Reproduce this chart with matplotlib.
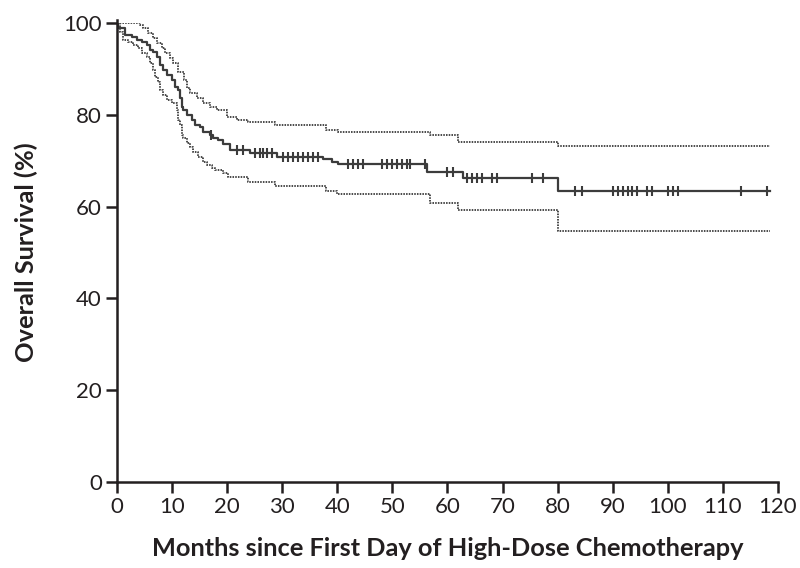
import numpy as np
import matplotlib
matplotlib.use("Agg")
import matplotlib.pyplot as plt

# Kaplan-Meier estimate (months, % survival after each step)
t_mid = [0, 0.2, 1.5, 2.7, 3.6, 4.5, 5.4, 6.0, 6.5, 7.3, 7.8, 8.3, 9.1, 10.0, 10.5,
         11.1, 11.4, 11.8, 12.0, 12.7, 13.6, 14.2, 15.1, 15.6, 16.9, 17.4, 18.3, 19.2,
         20.5, 24.1, 29.0, 37.4, 39.0, 40.1, 56.3, 62.8, 80.0, 118.5]
s_mid = [100, 98.9, 97.4, 96.9, 96.3, 95.9, 95.2, 94.1, 93.7, 92.6, 90.8, 89.8, 88.7, 87.6, 86.1,
         85.4, 83.7, 81.7, 81.0, 80.0, 78.9, 77.8, 77.3, 76.3, 75.6, 74.9, 74.5, 73.6,
         72.3, 71.6, 70.9, 70.4, 69.8, 69.2, 67.6, 66.2, 63.4, 63.4]

# upper 95% confidence limit
t_up = [0, 4.2, 4.7, 5.6, 6.5, 7.3, 8.2, 8.7, 9.6, 10.2, 11.1, 12.2, 12.7, 13.2, 14.5,
        15.6, 16.9, 18.1, 20.0, 21.8, 23.8, 28.7, 37.9, 40.1, 56.8, 61.9, 80.0, 118.5]
s_up = [100, 99.6, 98.9, 97.8, 96.7, 95.6, 94.6, 93.5, 92.4, 91.3, 89.3, 87.6, 85.8, 84.7, 83.7,
        82.6, 81.7, 81.0, 79.5, 78.9, 78.4, 77.8, 76.8, 76.2, 75.6, 74.1, 73.2, 73.2]

# lower 95% confidence limit
t_lo = [0, 0.5, 1.1, 2.0, 2.9, 3.8, 4.5, 5.4, 6.0, 6.5, 6.9, 7.4, 7.8, 8.3, 9.1, 10.0,
        10.9, 11.1, 11.4, 11.8, 12.0, 12.7, 13.2, 13.8, 14.7, 15.6, 16.3, 17.2, 17.8,
        19.2, 20.1, 23.8, 28.7, 37.9, 39.9, 56.8, 61.9, 80.0, 118.5]
s_lo = [100, 98.0, 96.3, 95.9, 95.2, 94.6, 93.5, 92.6, 91.3, 89.8, 88.2, 87.1, 85.4, 84.3, 83.2, 82.6,
        81.0, 78.9, 77.8, 75.6, 74.9, 73.9, 73.0, 71.9, 70.8, 69.7, 69.1, 68.4, 68.0,
        67.3, 66.4, 65.4, 64.5, 63.5, 62.7, 60.7, 59.3, 54.7, 54.7]

# censored observations (months)
censored = [17.0, 21.8, 22.9, 25.0, 26.0, 26.5, 27.2, 28.1, 30.1, 31.0, 31.9, 32.8, 33.8,
            34.7, 35.6, 36.5, 41.9, 42.8, 43.7, 44.6, 48.1, 49.0, 49.9, 50.8, 51.7, 52.6,
            53.2, 55.9, 59.9, 61.0, 63.5, 64.4, 65.3, 66.2, 68.1, 69.0, 75.3, 77.3, 83.1,
            84.4, 90.0, 90.9, 91.8, 92.7, 93.6, 94.4, 96.2, 97.1, 100.0, 100.9, 101.8,
            113.4, 118.1]

xticks = np.arange(0, 121, 10)
yticks = np.arange(0, 101, 20)

font = ["Lato", "DejaVu Sans"]
ink = "#231f20"

fig = plt.figure(figsize=(8, 5.68), dpi=100)
ax = fig.add_axes([0.1463, 0.1514, 0.826, 0.808])

ax.step(t_up, s_up, where="post", color="#4a4a4a", lw=1.4, ls=(0, (0.8, 0.6)))
ax.step(t_lo, s_lo, where="post", color="#4a4a4a", lw=1.4, ls=(0, (0.8, 0.6)))
ax.step(t_mid, s_mid, where="post", color="#3c3c3c", lw=1.6)

# censor marks sit on the step curve
idx = np.searchsorted(t_mid, censored, side="right") - 1
ax.plot(censored, np.array(s_mid)[idx], ls="none", marker="|", ms=7.5, mew=1.5, color="#3c3c3c")

ax.set_xlim(0, 120)
ax.set_ylim(0, 100)
ax.set_xticks(xticks)
ax.set_yticks(yticks)
ax.set_xticklabels([str(v) for v in xticks], family=font, fontsize=16, color=ink)
ax.set_yticklabels([str(v) for v in yticks], family=font, fontsize=16, color=ink)
ax.tick_params(direction="out", length=8, width=1.8, color=ink, pad=3)

for side in ["top", "right"]:
    ax.spines[side].set_visible(False)
for side in ["left", "bottom"]:
    ax.spines[side].set_linewidth(1.8)
    ax.spines[side].set_color(ink)
ax.spines["left"].set_bounds(0, 100.6)

ax.set_xlabel("Months since First Day of High-Dose Chemotherapy", family=font,
              fontsize=18.3, fontweight="bold", color=ink, labelpad=14)
ax.set_ylabel("Overall Survival (%)", family=font,
              fontsize=18.3, fontweight="bold", color=ink, labelpad=18)

fig.savefig("out.png", dpi=100)
